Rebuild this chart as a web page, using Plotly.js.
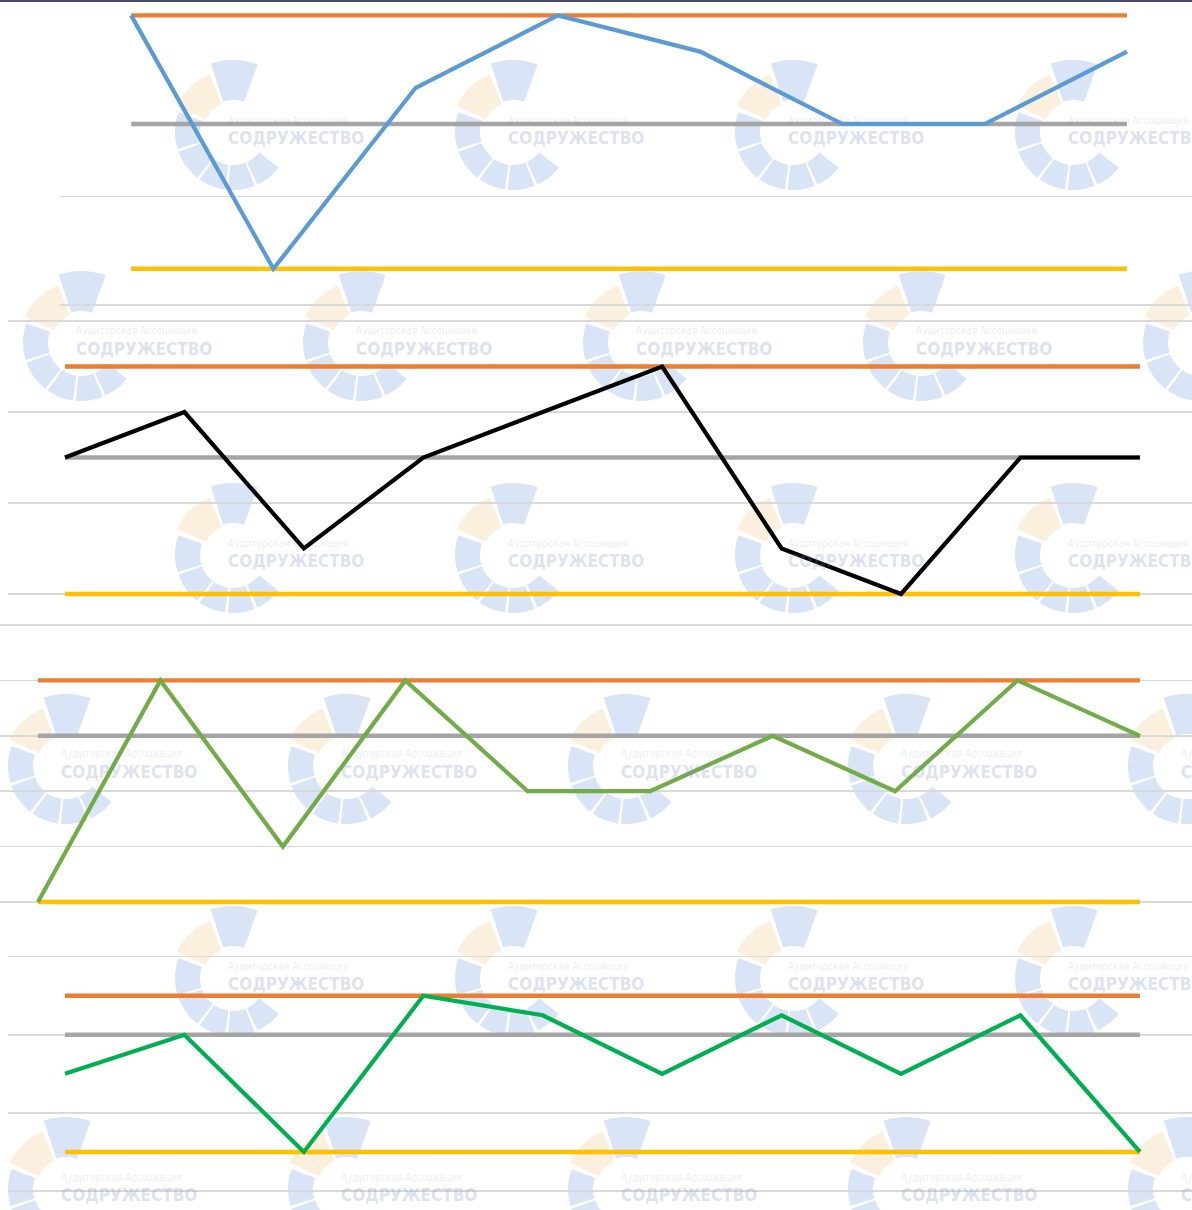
<!DOCTYPE html>
<html><head><meta charset="utf-8">
<script src="https://cdn.plot.ly/plotly-3.0.1.min.js"></script>
<style>html,body{margin:0;padding:0;background:#fff;overflow:hidden}#chart{width:1192px;height:1210px}</style>
</head><body><div id="chart"></div>
<script>
// ---------- DATA ----------
// Panel 1 (blue)
const periods1 = [1, 2, 3, 4, 5, 6, 7, 8];
const series1  = [8, 1, 6, 8, 7, 5, 5, 7];
const max1     = [8, 8, 8, 8, 8, 8, 8, 8];
const mid1     = [5, 5, 5, 5, 5, 5, 5, 5];
const min1     = [1, 1, 1, 1, 1, 1, 1, 1];
const grid1    = [0, 3];
// Panel 2 (black)
const periods2 = [1, 2, 3, 4, 5, 6, 7, 8, 9, 10];
const series2  = [1.5, 2, 0.5, 1.5, 2, 2.5, 0.5, 0, 1.5, 1.5];
const max2     = [2.5, 2.5, 2.5, 2.5, 2.5, 2.5, 2.5, 2.5, 2.5, 2.5];
const mid2     = [1.5, 1.5, 1.5, 1.5, 1.5, 1.5, 1.5, 1.5, 1.5, 1.5];
const min2     = [0, 0, 0, 0, 0, 0, 0, 0, 0, 0];
const grid2    = [0, 1, 2, 3];
// Panel 3 (light green)
const periods3 = [1, 2, 3, 4, 5, 6, 7, 8, 9, 10];
const series3  = [0, 4, 1, 4, 2, 2, 3, 2, 4, 3];
const max3     = [4, 4, 4, 4, 4, 4, 4, 4, 4, 4];
const mid3     = [3, 3, 3, 3, 3, 3, 3, 3, 3, 3];
const min3     = [0, 0, 0, 0, 0, 0, 0, 0, 0, 0];
const grid3    = [0, 1, 2, 3, 4, 5];
// Panel 4 (green)
const periods4 = [1, 2, 3, 4, 5, 6, 7, 8, 9, 10];
const series4  = [1.5, 2, 0.5, 2.5, 2.25, 1.5, 2.25, 1.5, 2.25, 0.5];
const max4     = [2.5, 2.5, 2.5, 2.5, 2.5, 2.5, 2.5, 2.5, 2.5, 2.5];
const mid4     = [2, 2, 2, 2, 2, 2, 2, 2, 2, 2];
const min4     = [0.5, 0.5, 0.5, 0.5, 0.5, 0.5, 0.5, 0.5, 0.5, 0.5];
const grid4    = [0, 1, 2, 3];

const watermarkSmall = "Аудиторская Ассоциация";
const watermarkBig   = "СОДРУЖЕСТВО";

// ---------- STYLE ----------
const W = 1192, H = 1210;
const C_MAX = '#ED7D31', C_MID = '#A5A5A5', C_MIN = '#FFC000';
const panels = [
  {x: periods1, s: series1, mx: max1, md: mid1, mn: min1, g: grid1, col: '#5B9BD5',
   xdom: [60, W], xr: [0.5, 8.457], ydom: [0, 312], yzero: 305, ppu: 36.2},
  {x: periods2, s: series2, mx: max2, md: mid2, mn: min2, g: grid2, col: '#000000',
   xdom: [8, W], xr: [0.523, 10.436], ydom: [310, 612], yzero: 594, ppu: 91},
  {x: periods3, s: series3, mx: max3, md: mid3, mn: min3, g: grid3, col: '#70AD47',
   xdom: [0, W], xr: [0.69, 10.425], ydom: [612, 918], yzero: 902, ppu: 55.4},
  {x: periods4, s: series4, mx: max4, md: mid4, mn: min4, g: grid4, col: '#00B050',
   xdom: [8, W], xr: [0.523, 10.436], ydom: [940, H], yzero: 1191, ppu: 78.1}
];

const traces = [];
const layout = {
  width: W, height: H, margin: {l: 0, r: 0, t: 0, b: 0},
  paper_bgcolor: '#ffffff', plot_bgcolor: 'rgba(0,0,0,0)',
  showlegend: false, hovermode: false,
  shapes: [], annotations: []
};

panels.forEach((p, i) => {
  const n = i + 1;
  const xa = n === 1 ? 'x' : 'x' + n, ya = n === 1 ? 'y' : 'y' + n;
  const common = {mode: 'lines', xaxis: xa, yaxis: ya, hoverinfo: 'skip'};
  traces.push(Object.assign({x: p.x, y: p.mx, line: {color: C_MAX, width: 4.3}}, common));
  traces.push(Object.assign({x: p.x, y: p.md, line: {color: C_MID, width: 4.6}}, common));
  traces.push(Object.assign({x: p.x, y: p.mn, line: {color: C_MIN, width: 4.6}}, common));
  traces.push(Object.assign({x: p.x, y: p.s, line: {color: p.col, width: 4.2}}, common));
  const top = (p.yzero - p.ydom[0]) / p.ppu, bot = (p.yzero - p.ydom[1]) / p.ppu;
  layout[n === 1 ? 'xaxis' : 'xaxis' + n] = {
    domain: [p.xdom[0] / W, p.xdom[1] / W], range: p.xr, anchor: ya,
    showgrid: false, zeroline: false, showline: false, showticklabels: false, ticks: '', fixedrange: true
  };
  layout[n === 1 ? 'yaxis' : 'yaxis' + n] = {
    domain: [1 - p.ydom[1] / H, 1 - p.ydom[0] / H], range: [bot, top], anchor: xa,
    tickmode: 'array', tickvals: p.g, showgrid: true, gridcolor: '#D9D9D9', gridwidth: 1.5,
    zeroline: false, showline: false, showticklabels: false, ticks: '', fixedrange: true
  };
});

// ---------- WATERMARK (decoration) ----------
const px = v => v / W, py = v => 1 - v / H;
function seg(cx, cy, a0, a1, r0, r1) {
  const pts = [], N = 10;
  for (let k = 0; k <= N; k++) { const a = (a0 + (a1 - a0) * k / N) * Math.PI / 180; pts.push([cx + r1 * Math.cos(a), cy - r1 * Math.sin(a)]); }
  for (let k = N; k >= 0; k--) { const a = (a0 + (a1 - a0) * k / N) * Math.PI / 180; pts.push([cx + r0 * Math.cos(a), cy - r0 * Math.sin(a)]); }
  return 'M' + pts.map(q => px(q[0]).toFixed(5) + ',' + py(q[1]).toFixed(5)).join('L') + 'Z';
}
function logo(cx, cy) {
  const blue = 'rgba(130,165,225,0.30)', orange = 'rgba(240,190,120,0.25)';
  const parts = [
    [70, 108, 32, 72, blue],
    [112, 155, 30, 62, orange],
    [160, 197, 33, 58, blue], [200, 232, 33, 58, blue], [235, 262, 33, 58, blue],
    [265, 292, 33, 58, blue], [295, 322, 33, 58, blue]
  ];
  parts.forEach(q => layout.shapes.push({type: 'path', xref: 'paper', yref: 'paper', layer: 'below',
    path: seg(cx, cy, q[0], q[1], q[2], q[3]), fillcolor: q[4], line: {width: 0}}));
  layout.annotations.push({xref: 'paper', yref: 'paper', x: px(cx - 7), y: py(cy - 12), xanchor: 'left', yanchor: 'middle',
    text: watermarkSmall, showarrow: false,
    font: {family: 'Liberation Sans Narrow, DejaVu Sans Condensed, Arial Narrow, sans-serif', size: 10, color: 'rgba(120,140,190,0.18)'}});
  layout.annotations.push({xref: 'paper', yref: 'paper', x: px(cx - 7), y: py(cy + 6), xanchor: 'left', yanchor: 'middle',
    text: '<b>' + watermarkBig + '</b>', showarrow: false,
    font: {family: 'Liberation Sans Narrow, DejaVu Sans Condensed, Arial Narrow, sans-serif', size: 17, color: 'rgba(120,140,190,0.26)'}});
}
const rowsA = [132, 555, 978], colsA = [233, 513, 793, 1073];
const rowsB = [343], colsB = [81, 361, 641, 921, 1201];
const rowsC = [766, 1189], colsC = [66, 346, 626, 906, 1186];
rowsA.forEach(r => colsA.forEach(c => logo(c, r)));
rowsB.forEach(r => colsB.forEach(c => logo(c, r)));
rowsC.forEach(r => colsC.forEach(c => logo(c, r)));

// top border line
layout.shapes.push({type: 'line', xref: 'paper', yref: 'paper', x0: 0, x1: 1, y0: py(1), y1: py(1),
  line: {color: '#464a6c', width: 2}, layer: 'above'});

Plotly.newPlot('chart', traces, layout, {displayModeBar: false, staticPlot: true});
</script>
</body></html>
